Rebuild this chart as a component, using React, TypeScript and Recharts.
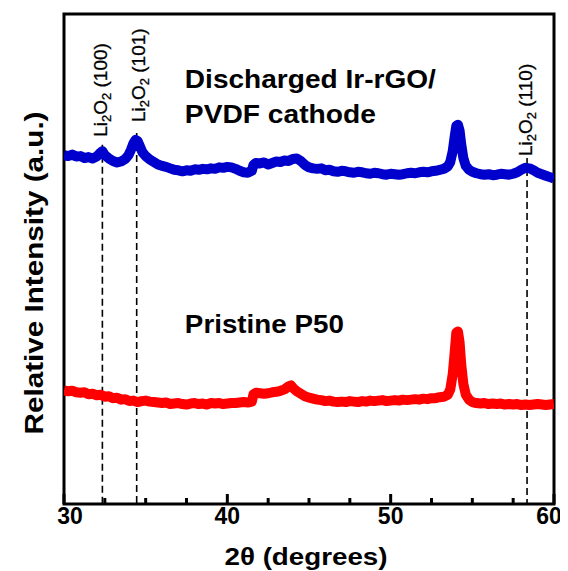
import React from 'react';
import { LineChart, Line, XAxis, YAxis, ReferenceLine, ReferenceArea, ReferenceDot } from 'recharts';

const blueTheta = [
  30.0, 30.25, 30.5, 30.75, 31.0, 31.25, 31.5, 31.75, 32.0, 32.2, 32.35, 32.5, 32.8, 33.0, 33.25, 33.5, 33.75, 33.95,
  34.1, 34.25, 34.38, 34.5, 34.65, 34.8, 35.0, 35.25, 35.5, 35.75, 36.0, 36.25, 36.5, 36.75, 37.0, 37.25, 37.5, 37.75,
  38.0, 38.25, 38.5, 38.75, 39.0, 39.25, 39.5, 39.75, 40.0, 40.25, 40.5, 40.75, 41.0, 41.25, 41.5, 41.6, 41.75, 42.0,
  42.25, 42.5, 42.75, 43.0, 43.25, 43.5, 43.75, 44.0, 44.25, 44.5, 44.75, 45.0, 45.25, 45.5, 45.75, 46.0, 46.25, 46.5,
  46.75, 47.0, 47.25, 47.5, 47.75, 48.0, 48.25, 48.5, 48.75, 49.0, 49.25, 49.5, 49.75, 50.0, 50.25, 50.5, 50.75, 51.0,
  51.25, 51.5, 51.75, 52.0, 52.25, 52.5, 52.75, 53.0, 53.25, 53.5, 53.65, 53.8, 53.92, 54.02, 54.12, 54.22, 54.32,
  54.45, 54.6, 54.8, 55.0, 55.25, 55.5, 55.75, 56.0, 56.25, 56.5, 56.75, 57.0, 57.25, 57.5, 57.75, 58.0, 58.25, 58.5,
  58.75, 59.0, 59.25, 59.5, 59.75, 60.0,
];
const blueIntensity = [
  71.2, 71.0, 71.3, 70.9, 71.0, 70.6, 70.8, 70.5, 70.9, 71.6, 72.0, 71.2, 70.4, 70.0, 69.7, 69.9, 70.4, 71.2,
  72.3, 73.6, 74.3, 74.1, 73.0, 71.8, 71.0, 70.3, 69.8, 69.3, 69.0, 68.8, 68.5, 68.2, 68.1, 67.9, 68.1, 68.0,
  68.3, 68.2, 68.4, 68.3, 68.5, 68.4, 68.7, 68.6, 68.8, 68.7, 68.4, 68.0, 67.7, 67.6, 68.0, 69.2, 69.6, 69.5,
  69.7, 69.3, 69.6, 69.9, 69.8, 70.1, 70.0, 70.4, 70.5, 70.0, 69.2, 68.7, 68.5, 68.4, 68.5, 68.1, 68.2, 67.9,
  67.8, 68.0, 67.9, 67.7, 67.6, 67.8, 67.7, 67.5, 67.4, 67.6, 67.5, 67.3, 67.2, 67.4, 67.3, 67.2, 67.3, 67.5,
  67.6, 67.5, 67.7, 67.8, 67.7, 67.9, 68.0, 68.2, 68.4, 68.9, 69.8, 72.0, 75.0, 77.2, 77.4, 76.2, 73.4,
  70.6, 69.0, 68.2, 67.8, 67.5, 67.3, 67.2, 67.3, 67.1, 67.2, 67.4, 67.3, 67.2, 67.4, 67.7, 68.2, 68.6, 68.5,
  68.1, 67.6, 67.3, 67.0, 66.7, 66.4,
];

const redTheta = [
  30.0, 30.25, 30.5, 30.75, 31.0, 31.25, 31.5, 31.75, 32.0, 32.25, 32.5, 32.75, 33.0, 33.25, 33.5, 33.75, 34.0, 34.25,
  34.5, 34.75, 35.0, 35.25, 35.5, 35.75, 36.0, 36.25, 36.5, 36.75, 37.0, 37.25, 37.5, 37.75, 38.0, 38.25, 38.5, 38.75,
  39.0, 39.25, 39.5, 39.75, 40.0, 40.25, 40.5, 40.75, 41.0, 41.25, 41.5, 41.6, 41.75, 42.0, 42.25, 42.5, 42.75, 43.0,
  43.25, 43.5, 43.75, 43.9, 44.05, 44.25, 44.5, 44.75, 45.0, 45.25, 45.5, 45.75, 46.0, 46.25, 46.5, 46.75, 47.0, 47.25,
  47.5, 47.75, 48.0, 48.25, 48.5, 48.75, 49.0, 49.25, 49.5, 49.75, 50.0, 50.25, 50.5, 50.75, 51.0, 51.25, 51.5, 51.75,
  52.0, 52.25, 52.5, 52.75, 53.0, 53.25, 53.5, 53.65, 53.8, 53.92, 54.02, 54.12, 54.22, 54.32, 54.45, 54.6, 54.8,
  55.0, 55.25, 55.5, 55.75, 56.0, 56.25, 56.5, 56.75, 57.0, 57.25, 57.5, 57.75, 58.0, 58.25, 58.5, 58.75, 59.0, 59.25,
  59.5, 59.75, 60.0,
];
const redIntensity = [
  23.2, 23.0, 23.1, 22.8, 22.7, 22.8, 22.4, 22.5, 22.2, 22.3, 21.9, 22.0, 21.6, 21.7, 21.3, 21.4, 21.0, 21.1,
  20.8, 21.0, 21.1, 20.9, 20.8, 20.7, 20.6, 20.7, 20.4, 20.5, 20.6, 20.4, 20.3, 20.5, 20.6, 20.4, 20.5, 20.3,
  20.6, 20.5, 20.6, 20.4, 20.5, 20.6, 20.6, 20.7, 20.8, 20.7, 20.9, 22.4, 22.7, 22.6, 22.5, 22.6, 22.8, 22.9,
  23.1, 23.4, 24.0, 24.2, 23.6, 23.0, 22.5, 22.0, 21.7, 21.5, 21.3, 21.2, 21.0, 21.1, 20.9, 20.8, 20.9, 20.8,
  21.0, 20.9, 20.8, 21.0, 20.9, 21.1, 21.0, 21.1, 21.2, 21.0, 21.1, 21.2, 21.1, 21.3, 21.2, 21.3, 21.4, 21.3,
  21.5, 21.4, 21.6, 21.6, 21.8, 21.9, 22.3, 23.4, 26.5, 31.0, 35.0, 35.2, 33.0, 28.5, 24.5, 22.3, 21.3,
  20.8, 20.6, 20.5, 20.6, 20.4, 20.5, 20.4, 20.5, 20.3, 20.4, 20.3, 20.4, 20.2, 20.3, 20.2, 20.3, 20.4, 20.3,
  20.2, 20.3, 20.4,
];

const xTicks = [30, 32.5, 35, 37.5, 40, 42.5, 45, 47.5, 50, 52.5, 55, 57.5, 60];
const majorTicks = [30, 40, 50, 60];
const peakTheta = [32.35, 34.45, 58.35];
const peakHkl = ['(100)', '(101)', '(110)'];
const peakLineTop = [73.3, 75.7, 70.6];

const blueData = blueTheta.map((t, i) => ({ theta: t, intensity: blueIntensity[i] }));
const redData = redTheta.map((t, i) => ({ theta: t, intensity: redIntensity[i] }));

const FONT = '"Liberation Sans", Arial, Helvetica, sans-serif';

const labelShift: Record<number, number> = { 30: 6, 60: -5 };

const BottomTick = (props: any) => {
  const { x, y, payload } = props;
  const v = payload.value;
  const major = majorTicks.includes(v);
  return (
    <g>
      <line x1={x} x2={x} y1={y} y2={y - (major ? 10 : 6)} stroke="#000" strokeWidth={3} />
      {major && (
        <text x={x + (labelShift[v] || 0)} y={y + 20} textAnchor="middle" fontFamily={FONT} fontWeight="bold" fontSize={23} fill="#000">
          {v}
        </text>
      )}
    </g>
  );
};

const TopTick = (props: any) => {
  const { x, y, payload } = props;
  const major = majorTicks.includes(payload.value);
  return <line x1={x} x2={x} y1={y} y2={y + (major ? 9 : 6)} stroke="#000" strokeWidth={3} />;
};

const peakLabel = (hkl: string, dx: number, dy: number) => (props: any) => {
  const vb = props.viewBox;
  const x = vb.x + dx;
  const y = vb.y - dy;
  return (
    <text transform={`translate(${x},${y}) rotate(-90)`} fontFamily={FONT} fontSize={19} fill="#000" stroke="#000" strokeWidth={0.3}>
      Li<tspan fontSize={13} dy={4}>2</tspan>
      <tspan dy={-4}>O</tspan>
      <tspan fontSize={13} dy={4}>2</tspan>
      <tspan dy={-4}>{' ' + hkl}</tspan>
    </text>
  );
};
const peakLabelOffsets = [
  [5, 8],
  [8, 11],
  [5, 2],
];

const annotation = (lines: string[], lengths: number[], gap: number) => (props: any) => {
  const vb = props.viewBox;
  return (
    <g>
      {lines.map((s, i) => (
        <text
          key={i}
          x={vb.x}
          y={vb.y + i * gap}
          fontFamily={FONT}
          fontWeight="bold"
          fontSize={25}
          fill="#000"
          textLength={lengths[i]}
          lengthAdjust="spacingAndGlyphs"
        >
          {s}
        </text>
      ))}
    </g>
  );
};

const YLabel = (props: any) => {
  const vb = props.viewBox;
  const x = vb.x + 35;
  const y = vb.y + 259;
  return (
    <text
      transform={`translate(${x},${y}) rotate(-90)`}
      textAnchor="middle"
      fontFamily={FONT}
      fontWeight="bold"
      fontSize={25}
      fill="#000"
      textLength={323}
      lengthAdjust="spacingAndGlyphs"
    >
      Relative Intensity (a.u.)
    </text>
  );
};

const XLabel = (props: any) => {
  const vb = props.viewBox;
  return (
    <text
      x={vb.x + vb.width / 2 - 3}
      y={vb.y + 61}
      textAnchor="middle"
      fontFamily={FONT}
      fontWeight="bold"
      fontSize={24}
      fill="#000"
      textLength={163}
      lengthAdjust="spacingAndGlyphs"
    >
      2θ (degrees)
    </text>
  );
};

export default function App() {
  return (
    <LineChart width={560} height={563} margin={{ top: 6, right: 14, bottom: 0, left: 0 }}>
      <XAxis
        xAxisId={0}
        dataKey="theta"
        type="number"
        domain={[30, 60]}
        allowDataOverflow
        ticks={xTicks}
        interval={0}
        height={67}
        axisLine={false}
        tickLine={false}
        tickSize={0}
        tickMargin={0}
        tick={<BottomTick />}
        label={{ content: <XLabel /> }}
      />
      <XAxis
        xAxisId="top"
        orientation="top"
        type="number"
        domain={[30, 60]}
        allowDataOverflow
        ticks={xTicks}
        interval={0}
        height={0}
        axisLine={false}
        tickLine={false}
        tickSize={0}
        tickMargin={0}
        tick={<TopTick />}
      />
      <YAxis
        type="number"
        domain={[0, 100]}
        allowDataOverflow
        width={56}
        tick={false}
        axisLine={false}
        tickLine={false}
        label={{ content: <YLabel /> }}
      />
      {peakTheta.map((t, i) => (
        <ReferenceLine
          key={'pl' + i}
          segment={[
            { x: t, y: peakLineTop[i] },
            { x: t, y: 0 },
          ]}
          stroke="#000"
          strokeWidth={1.6}
          strokeDasharray="7 4"
          label={{ content: peakLabel(peakHkl[i], peakLabelOffsets[i][0], peakLabelOffsets[i][1]) }}
        />
      ))}
      <Line
        data={blueData}
        dataKey="intensity"
        type="linear"
        stroke="#0000CC"
        strokeWidth={10}
        strokeLinejoin="round"
        dot={false}
        isAnimationActive={false}
      />
      <Line
        data={redData}
        dataKey="intensity"
        type="linear"
        stroke="#FF0000"
        strokeWidth={10}
        strokeLinejoin="round"
        dot={false}
        isAnimationActive={false}
      />
      <ReferenceDot
        x={37.4}
        y={84.9}
        r={0}
        fill="none"
        stroke="none"
        label={{ content: annotation(['Discharged Ir-rGO/', 'PVDF cathode'], [251, 191], 35) }}
      />
      <ReferenceDot
        x={37.4}
        y={34.9}
        r={0}
        fill="none"
        stroke="none"
        label={{ content: annotation(['Pristine P50'], [159], 0) }}
      />
      <ReferenceArea x1={30} x2={60} y1={0} y2={100} fill="none" stroke="#000" strokeWidth={3} strokeOpacity={1} fillOpacity={0} />
    </LineChart>
  );
}
